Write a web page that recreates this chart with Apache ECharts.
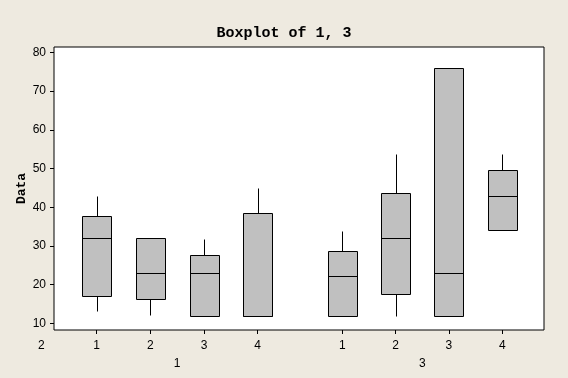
<!DOCTYPE html>
<html><head><meta charset="utf-8">
<script src="https://cdn.jsdelivr.net/npm/echarts@6/dist/echarts.min.js"></script>
<style>html,body{margin:0;padding:0;background:#EEEAE0}#c{width:568px;height:378px}</style>
</head><body><div id="c"></div>
<script>
const titleText = 'Boxplot of 1, 3';
const yName = 'Data';
const subCategories = ['1', '2', '3', '4'];
const groupNames = ['1', '3'];
const yTicks = [10, 20, 30, 40, 50, 60, 70, 80];
const strayLabel = '2';
// each box: [min, Q1, median, Q3, max]
const group1 = [
  [13.2, 17.0, 32.0, 37.6, 42.9],
  [12.2, 16.4, 22.9, 32.0, 32.0],
  [12.0, 12.0, 22.9, 27.6, 31.8],
  [12.0, 12.0, 12.0, 38.4, 45.0]
];
const group3 = [
  [12.0, 12.0, 22.1, 28.6, 33.8],
  [12.0, 17.5, 32.0, 43.6, 53.7],
  [12.0, 12.0, 22.9, 76.1, 76.1],
  [34.0, 34.0, 43.0, 49.5, 53.7]
];

const Y_MIN = 8.27, Y_MAX = 81.4;
const FONT = 'Liberation Sans';
const PLOT = { left: 54, top: 47, width: 490, height: 283 };

function renderBox(params, api) {
  const x = api.value(0);
  const mn = api.value(1), q1 = api.value(2), md = api.value(3), q3 = api.value(4), mx = api.value(5);
  const band = api.size([1, 0])[0];
  const bw = Math.round(band * 0.54);
  const c = api.coord([x, md]);
  const cx = Math.round(c[0]) + 0.5;
  const x0 = Math.round(c[0] - bw / 2) + 0.5;
  const x1 = x0 + bw;
  const yr = v => Math.round(api.coord([x, v])[1]) + 0.5;
  const yQ1 = yr(q1), yQ3 = yr(q3), yMd = yr(md), yMn = yr(mn), yMx = yr(mx);
  const ls = { stroke: '#000', lineWidth: 1, fill: null };
  const children = [];
  if (mx > q3) children.push({ type: 'line', shape: { x1: cx, y1: yQ3, x2: cx, y2: yMx }, style: ls });
  if (mn < q1) children.push({ type: 'line', shape: { x1: cx, y1: yQ1, x2: cx, y2: yMn }, style: ls });
  children.push({ type: 'rect', shape: { x: x0, y: yQ3, width: bw, height: yQ1 - yQ3 }, style: { fill: '#C0C0C0', stroke: '#000', lineWidth: 1 } });
  children.push({ type: 'line', shape: { x1: x0, y1: yMd, x2: x1, y2: yMd }, style: ls });
  return { type: 'group', children };
}

const band1 = 53.65, band3 = 53.33;
const grids = [
  { left: PLOT.left, top: PLOT.top, width: PLOT.width, height: PLOT.height, show: true, backgroundColor: '#fff', borderColor: '#000', borderWidth: 1 },
  { left: 96.7 - band1 / 2, top: PLOT.top, width: band1 * 4, height: PLOT.height },
  { left: 342.3 - band3 / 2, top: PLOT.top, width: band3 * 4, height: PLOT.height }
];

function groupXAxis(gi, name) {
  return {
    type: 'category', gridIndex: gi, data: subCategories, boundaryGap: true,
    axisLine: { show: false },
    axisTick: { show: true, alignWithLabel: true, length: 4, lineStyle: { color: '#000' } },
    axisLabel: { color: '#000', fontFamily: FONT, fontSize: 12, margin: 10 },
    name: name, nameLocation: 'middle', nameGap: 28, nameMoveOverlap: false,
    nameTextStyle: { color: '#000', fontFamily: FONT, fontSize: 12 }
  };
}

function hiddenY(gi) {
  return { type: 'value', gridIndex: gi, min: Y_MIN, max: Y_MAX, show: false, splitLine: { show: false } };
}

const toData = arr => arr.map((b, i) => [i].concat(b));

const option = {
  backgroundColor: '#EEEAE0',
  animation: false,
  title: {
    text: titleText, left: 'center', top: 21,
    textStyle: { fontFamily: 'Liberation Mono', fontWeight: 'bold', fontSize: 15, color: '#000' }
  },
  grid: grids,
  xAxis: [
    { type: 'value', gridIndex: 0, min: 0, max: 1, show: false, splitLine: { show: false } },
    groupXAxis(1, groupNames[0]),
    groupXAxis(2, groupNames[1])
  ],
  yAxis: [
    {
      type: 'value', gridIndex: 0, min: Y_MIN, max: Y_MAX,
      axisLine: { show: false },
      splitLine: { show: false },
      axisTick: { show: true, length: 4, customValues: yTicks, lineStyle: { color: '#000' } },
      axisLabel: { customValues: yTicks, color: '#000', fontFamily: FONT, fontSize: 12, margin: 8 },
      name: yName, nameLocation: 'middle', nameRotate: 90, nameGap: 26, nameMoveOverlap: false,
      nameTextStyle: { fontFamily: 'Liberation Mono', fontWeight: 'bold', fontSize: 13, color: '#000' }
    },
    hiddenY(1),
    hiddenY(2)
  ],
  graphic: [
    { type: 'text', left: 38, top: 340, style: { text: strayLabel, fill: '#000', font: '12px ' + FONT } }
  ],
  series: [
    { type: 'custom', xAxisIndex: 1, yAxisIndex: 1, renderItem: renderBox, data: toData(group1), encode: { x: 0, y: [1, 2, 3, 4, 5] } },
    { type: 'custom', xAxisIndex: 2, yAxisIndex: 2, renderItem: renderBox, data: toData(group3), encode: { x: 0, y: [1, 2, 3, 4, 5] } }
  ]
};

const chart = echarts.init(document.getElementById('c'), null, { renderer: 'canvas' });
chart.setOption(option);
</script>
</body></html>
